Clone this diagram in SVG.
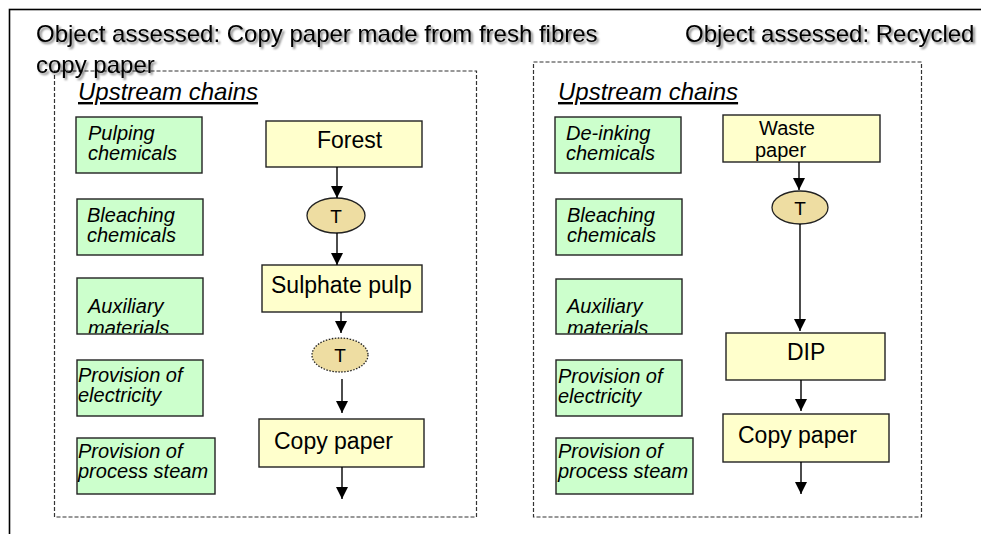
<svg xmlns="http://www.w3.org/2000/svg" width="981" height="534" viewBox="0 0 981 534">
<style>
text{font-family:"Liberation Sans",Arial,sans-serif;fill:#000}
.title{font-size:24px}
.up{font-size:24px;font-style:italic;text-decoration:underline}
.g rect{fill:#CCFFCC;stroke:#222;stroke-width:1.4}
.g text{font-size:20px;font-style:italic}
.y rect{fill:#FFFFCC;stroke:#222;stroke-width:1.4}
.y text{font-size:23px}
.t ellipse{fill:#EEDDA2;stroke:#222;stroke-width:1.3}
.t text{font-size:19px}
.dash{fill:none;stroke:#333;stroke-width:1.2;stroke-dasharray:4 2}
.conn line{stroke:#000;stroke-width:1.4;marker-end:url(#ah)}
</style>
<defs>
<marker id="ah" markerUnits="userSpaceOnUse" markerWidth="13" markerHeight="12" refX="12" refY="6" orient="auto">
<path d="M0,0 L12,6 L0,12 z" fill="#000"/>
</marker>
<filter id="sh" x="-5%" y="-30%" width="110%" height="160%">
<feDropShadow dx="2" dy="2" stdDeviation="1.3" flood-color="#000" flood-opacity="0.5"/>
</filter>
<clipPath id="c1"><rect x="78" y="279" width="124" height="54.2"/></clipPath>
<clipPath id="c2"><rect x="557" y="280" width="124" height="53.2"/></clipPath>
</defs>
<rect width="981" height="534" fill="#fff"/>
<rect x="9.5" y="9.5" width="1000" height="600" fill="none" stroke="#000" stroke-width="1.6"/>
<rect class="dash" x="54.5" y="71" width="422" height="446"/>
<rect class="dash" x="533.5" y="62" width="388" height="455"/>
<g filter="url(#sh)">
<text class="title" x="36" y="42">Object assessed: Copy paper made from fresh fibres</text>
<text class="title" x="36" y="73">copy paper</text>
<text class="title" x="685" y="42">Object assessed: Recycled</text>
</g>
<text class="up" x="78" y="100">Upstream chains</text>
<text class="up" x="558" y="100">Upstream chains</text>
<g id="pulping" class="g"><rect x="76" y="117" width="126" height="56"/><text x="88" y="140">Pulping</text><text x="88" y="160">chemicals</text></g>
<g id="bleaching1" class="g"><rect x="77" y="199" width="126" height="56"/><text x="87" y="222">Bleaching</text><text x="87" y="242">chemicals</text></g>
<g id="auxiliary1" class="g"><rect x="77" y="278" width="126" height="56"/><g clip-path="url(#c1)"><text x="88" y="313">Auxiliary</text><text x="88" y="335">materials</text></g></g>
<g id="electricity1" class="g"><rect x="77" y="360" width="126" height="56"/><text x="78" y="382">Provision of</text><text x="78" y="402">electricity</text></g>
<g id="steam1" class="g"><rect x="77" y="438" width="138" height="56"/><text x="78" y="458">Provision of</text><text x="78" y="478">process steam</text></g>
<g id="forest" class="y"><rect x="266" y="121" width="156" height="46"/><text x="317" y="148">Forest</text></g>
<g id="t1" class="t"><ellipse cx="336" cy="215.5" rx="29" ry="17.5"/><text x="336" y="222.5" text-anchor="middle">T</text></g>
<g id="sulphate" class="y"><rect x="262" y="265" width="160" height="47"/><text x="271" y="293">Sulphate pulp</text></g>
<g id="t2" class="t"><ellipse cx="340" cy="355" rx="28" ry="17" stroke-dasharray="1.5 1.5"/><text x="340" y="362" text-anchor="middle">T</text></g>
<g id="copy1" class="y"><rect x="259" y="419" width="165" height="48"/><text x="274" y="449">Copy paper</text></g>
<g id="deinking" class="g"><rect x="555" y="117" width="126" height="56"/><text x="566" y="140">De-inking</text><text x="566" y="160">chemicals</text></g>
<g id="bleaching2" class="g"><rect x="556" y="199" width="126" height="56"/><text x="567" y="222">Bleaching</text><text x="567" y="242">chemicals</text></g>
<g id="auxiliary2" class="g"><rect x="556" y="279" width="126" height="55"/><g clip-path="url(#c2)"><text x="567" y="313">Auxiliary</text><text x="567" y="335">materials</text></g></g>
<g id="electricity2" class="g"><rect x="556" y="360" width="126" height="56"/><text x="558" y="383">Provision of</text><text x="558" y="403">electricity</text></g>
<g id="steam2" class="g"><rect x="556" y="438" width="137" height="56"/><text x="558" y="458">Provision of</text><text x="558" y="478">process steam</text></g>
<g id="waste" class="y"><rect x="723" y="115" width="157" height="47"/><text x="759" y="135" style="font-size:20px">Waste</text><text x="755" y="157" style="font-size:20px">paper</text></g>
<g id="t3" class="t"><ellipse cx="800" cy="207.5" rx="28" ry="16.5"/><text x="800" y="214.5" text-anchor="middle">T</text></g>
<g id="dip" class="y"><rect x="726" y="333" width="159" height="47"/><text x="787" y="360">DIP</text></g>
<g id="copy2" class="y"><rect x="723" y="414" width="166" height="48"/><text x="738" y="443">Copy paper</text></g>
<g id="connectors" class="conn">
<line x1="337" y1="167" x2="337" y2="198"/>
<line x1="337" y1="233" x2="337" y2="265"/>
<line x1="341" y1="312" x2="341" y2="333"/>
<line x1="342" y1="379" x2="342" y2="413"/>
<line x1="342" y1="467" x2="342" y2="499"/>
<line x1="799" y1="162" x2="799" y2="190"/>
<line x1="800" y1="224" x2="800" y2="331"/>
<line x1="801" y1="380" x2="801" y2="411"/>
<line x1="801" y1="462" x2="801" y2="494"/>
</g>
</svg>
